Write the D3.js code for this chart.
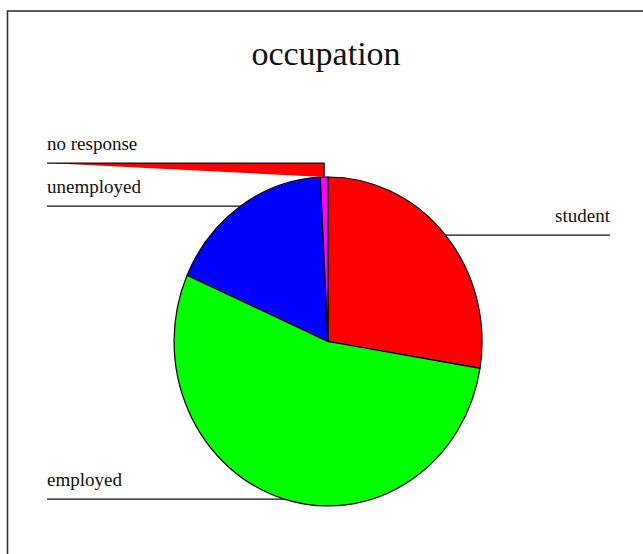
<!DOCTYPE html>
<html>
<head>
<meta charset="utf-8">
<script src="https://cdn.jsdelivr.net/npm/d3@7"></script>
<style>
  body { margin: 0; background: #fff; }
  text { font-family: "Liberation Serif", "Times New Roman", serif; fill: #111; }
</style>
</head>
<body>
<script>
var width = 643,
    height = 554;

// data (percent of answers)
var categories = ["student", "employed", "unemployed", "no response"];
var values = [27.6, 54.0, 17.6, 0.8];
var colors = ["#ff0000", "#00ff00", "#0000ff", "#ff00ff"];

var cx = 328, cy = 341.5,
    rx = 154, ry = 164.5;

var svg = d3.select("body").append("svg")
    .attr("width", width)
    .attr("height", height);

// frame, only top and left edges are inside the window
svg.append("rect")
    .attr("x", 7.5).attr("y", 11)
    .attr("width", 700).attr("height", 600)
    .attr("fill", "none")
    .attr("stroke", "#333")
    .attr("stroke-width", 1.6);

svg.append("text")
    .attr("x", 326).attr("y", 65)
    .attr("text-anchor", "middle")
    .style("font-size", "34px")
    .text("occupation");

var data = categories.map(function(c, i) { return {name: c, value: values[i], color: colors[i]}; });

var pie = d3.pie().sort(null).value(function(d) { return d.value; });
var arcs = pie(data);

// unit arc, stretched into an ellipse
var arc = d3.arc().innerRadius(0).outerRadius(1);

var g = svg.append("g")
    .attr("transform", "translate(" + cx + "," + cy + ") scale(" + rx + "," + ry + ")");

g.selectAll("path")
  .data(arcs)
  .enter().append("path")
    .attr("d", arc)
    .attr("fill", function(d) { return d.data.color; })
    .attr("stroke", "#000")
    .attr("stroke-width", 1.2)
    .attr("vector-effect", "non-scaling-stroke");

// anchor points on the rim at each slice's middle angle
arcs.forEach(function(d) {
  var a = (d.startAngle + d.endAngle) / 2;
  d.ax = cx + rx * Math.sin(a);
  d.ay = cy - ry * Math.cos(a);
  d.right = Math.sin(a) > 0;
  d.ly = d.ay;
});

// push left labels apart, moving upward
var left = arcs.filter(function(d) { return !d.right; })
    .sort(function(a, b) { return b.ay - a.ay; });
for (var i = 1; i < left.length; i++) {
  if (left[i - 1].ly - left[i].ly < 43) left[i].ly = left[i - 1].ly - 43;
}

var labels = svg.append("g");

arcs.forEach(function(d) {
  var x0 = d.right ? 610 : 47;
  if (d.ly !== d.ay) {
    // shifted label: leader goes across, then down to the slice
    labels.append("path")
      .attr("d", "M" + x0 + "," + d.ly + "L" + d.ax + "," + d.ly + "L" + d.ax + "," + d.ay + "Z")
      .attr("fill", "#ff0000")
      .attr("stroke", "none");
    labels.append("path")
      .attr("d", "M" + x0 + "," + d.ly + "L" + d.ax + "," + d.ly + "L" + d.ax + "," + d.ay)
      .attr("fill", "none")
      .attr("stroke", "#111")
      .attr("stroke-width", 1.3);
  } else {
    labels.append("line")
      .attr("x1", x0).attr("y1", d.ly)
      .attr("x2", d.ax).attr("y2", d.ly)
      .attr("stroke", "#111")
      .attr("stroke-width", 1.3);
  }
  labels.append("text")
    .attr("x", x0)
    .attr("y", d.ly - 13.5)
    .attr("text-anchor", d.right ? "end" : "start")
    .style("font-size", "19px")
    .text(d.data.name);
});
</script>
</body>
</html>
